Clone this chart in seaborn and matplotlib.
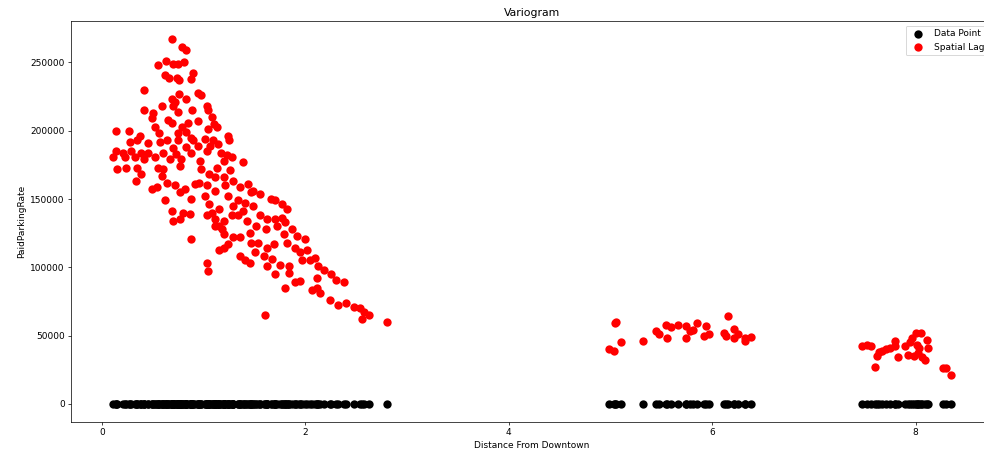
import matplotlib
matplotlib.use("Agg")
import matplotlib.pyplot as plt
import seaborn as sns
import pandas as pd

# Distance from downtown and the spatial lag of PaidParkingRate
distance = [
    0.69, 0.79, 0.83, 0.55, 0.63, 0.70, 0.75, 0.81, 0.62, 0.66, 0.74, 0.76, 0.90, 0.88,
    0.42, 0.69, 0.72, 0.76, 0.83, 0.95, 0.98, 0.59, 0.70, 0.42, 0.50, 0.75, 0.89, 1.03,
    1.04, 0.49, 0.65, 0.69, 0.85, 0.95, 1.08, 1.10, 0.52, 0.79, 0.83, 1.04, 1.13, 0.14,
    0.27, 0.38, 0.56, 0.75, 0.88, 0.75, 0.90, 1.01, 1.09, 1.24, 1.25, 0.28, 0.35, 0.45,
    0.57, 0.64, 0.70, 0.83, 0.95, 1.06, 1.14, 0.14, 0.21, 0.29, 0.39, 0.45, 0.60, 0.73,
    0.88, 1.03, 1.17, 1.23, 1.28, 0.11, 0.23, 0.33, 0.42, 0.52, 0.67, 0.78, 0.97, 1.20,
    0.15, 0.24, 0.35, 0.55, 0.77, 0.98, 1.13, 1.26,
    0.34, 0.39, 0.49, 0.54, 0.60, 0.59, 0.64, 0.62, 0.69, 0.70, 0.77, 0.80, 0.87, 0.77,
    0.72, 0.82, 0.88, 0.92, 0.96, 1.01, 1.05, 1.08, 1.11, 1.15, 0.88, 1.05, 1.11, 1.21,
    1.24, 1.29, 1.34, 1.36, 1.18, 1.20, 1.15, 1.24, 1.39, 1.44, 1.47, 1.41, 1.43, 1.46,
    1.47, 1.36, 1.04,
    1.29, 1.49, 1.36, 1.56, 1.66, 1.70, 1.77, 1.82, 1.03, 1.11, 1.34, 1.49, 1.56, 1.62,
    1.70, 1.77, 1.80, 1.15, 1.03, 1.11, 1.20, 1.28, 1.39, 1.52, 1.61, 1.72, 1.79, 1.87,
    1.92, 2.00, 1.20, 1.29, 1.54, 1.62, 1.69, 1.82, 1.90, 2.02, 2.10, 1.95, 1.51, 1.59,
    1.67, 1.75, 1.84, 1.03, 1.41, 2.13, 2.05, 1.20,
    1.46, 1.62, 1.70, 1.84, 1.80, 1.90, 1.95, 1.97, 2.12, 2.18, 2.25, 2.30, 2.38, 2.07,
    2.12, 2.15, 2.24, 2.32, 2.40, 2.48, 2.54, 2.58, 2.56, 2.63, 2.80, 1.60,
    5.05, 5.06, 4.99, 5.04, 5.10, 5.32, 5.45, 5.48, 5.55, 5.60, 5.56, 5.66, 5.74, 5.78,
    5.81, 5.85, 5.74, 5.94, 5.92, 5.97, 6.16, 6.12, 6.14, 6.22, 6.25, 6.22, 6.32, 6.32,
    6.38,
    7.47, 7.52, 7.56, 7.60, 7.62, 7.64, 7.67, 7.71, 7.75, 7.80, 7.80, 7.83, 7.90, 7.95,
    7.97, 8.00, 8.05, 7.93, 7.98, 8.02, 8.06, 8.09, 8.11, 8.12, 8.01, 8.03, 8.27, 8.30,
    8.35,
]

spatial_lag = [
    267000, 261000, 259000, 248000, 251000, 249000, 249000, 250000, 241000, 239000, 239000, 237000, 242000, 238000,
    230000, 223000, 221000, 227000, 223000, 228000, 226000, 218000, 218000, 215000, 213000, 214000, 215000, 218000,
    215000, 209000, 208000, 206000, 206000, 207000, 210000, 205000, 203000, 203000, 199000, 201000, 203000, 200000,
    200000, 196000, 198000, 198000, 195000, 193000, 193000, 194000, 193000, 196000, 193000, 192000, 193000, 191000,
    192000, 193000, 187000, 188000, 189000, 189000, 190000, 185000, 184000, 185000, 184000, 184000, 184000, 183000,
    184000, 185000, 184000, 182000, 181000, 181000, 181000, 181000, 179000, 181000, 179000, 179000, 178000, 178000,
    172000, 173000, 173000, 173000, 174000, 172000, 173000, 171000,
    163000, 168000, 157000, 159000, 172000, 167000, 162000, 149000, 141000, 134000, 135000, 140000, 139000, 155000,
    160000, 157000, 150000, 161000, 162000, 152000, 146000, 140000, 135000, 130000, 121000, 168000, 166000, 160000,
    152000, 145000, 138000, 122000, 128000, 114000, 113000, 117000, 177000, 161000, 155000, 147000, 134000, 125000,
    118000, 108000, 97000,
    163000, 156000, 159000, 154000, 150000, 149000, 146000, 143000, 160000, 156000, 149000, 145000, 138000, 135000,
    135000, 136000, 133000, 143000, 138000, 130000, 134000, 138000, 141000, 130000, 128000, 130000, 124000, 128000,
    123000, 121000, 124000, 122000, 118000, 114000, 117000, 118000, 114000, 113000, 107000, 111000, 111000, 108000,
    106000, 102000, 101000, 103000, 105000, 101000, 105000, 166000,
    103000, 101000, 95000, 96000, 85000, 89000, 90000, 105000, 92000, 98000, 95000, 91000, 89000, 83000,
    85000, 81000, 76000, 72000, 74000, 71000, 70000, 67000, 62000, 65000, 60000, 65000,
    59000, 60000, 40000, 39000, 45000, 46000, 53000, 51000, 58000, 56000, 48000, 58000, 57000, 53000,
    54000, 59000, 48000, 57000, 50000, 51000, 64000, 52000, 50000, 55000, 51000, 48000, 48000, 46000,
    49000,
    42000, 43000, 42000, 27000, 35000, 38000, 39000, 40000, 41000, 46000, 42000, 34000, 42000, 45000,
    48000, 52000, 52000, 36000, 35000, 37000, 34000, 32000, 47000, 41000, 43000, 41000, 26000, 26000,
    21000,
]

# The observed data points all sit on zero
data_point = [0] * len(distance)

df = pd.DataFrame({"distance": distance, "data": data_point, "lag": spatial_lag})

DPI = 65
fig = plt.figure(figsize=(984 / DPI, 452 / DPI), dpi=DPI)
ax = fig.add_axes([0.0722, 0.0664, 0.937, 0.887])

sns.scatterplot(data=df, x="distance", y="data", color="black", s=85,
                linewidth=0, label="Data Point", ax=ax)
sns.scatterplot(data=df, x="distance", y="lag", color="red", s=85,
                linewidth=0, label="Spatial Lag", ax=ax)

ax.set_title("Variogram", fontsize=12)
ax.set_xlabel("Distance From Downtown")
ax.set_ylabel("PaidParkingRate")
ax.legend(loc="upper right")

fig.savefig("out.png", dpi=DPI)
